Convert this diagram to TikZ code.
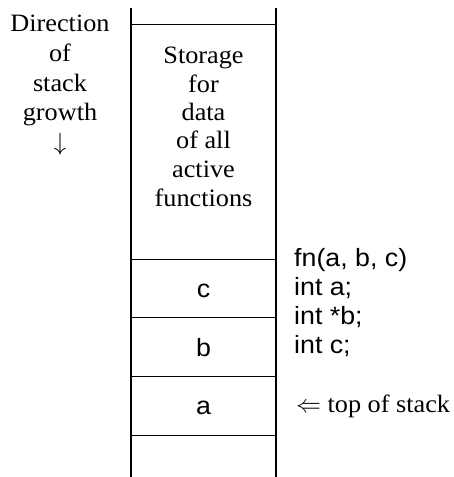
\documentclass[tikz,border=0pt]{standalone}
\usepackage{fontspec}
\setmainfont{Liberation Serif}[FakeStretch=1.05]
\setsansfont{Liberation Sans}[FakeStretch=1.07]
\begin{document}
\begin{tikzpicture}[x=1pt,y=-1pt,
  wall/.style={line width=2pt},
  slot/.style={line width=0.9pt},
  serifline/.style={font=\fontsize{25}{29}\selectfont, inner sep=0pt},
  sansline/.style={font=\sffamily\fontsize{25}{29}\selectfont, inner sep=0pt}]
\useasboundingbox (0,0) rectangle (454,477);
% stack walls
\coordinate (lt) at (131,8);
\coordinate (lb) at (131,477);
\coordinate (rt) at (276,8);
\coordinate (rb) at (276,477);
\draw[wall] (lt) -- (lb);
\draw[wall] (rt) -- (rb);
% frame boundaries
\foreach \y/\n in {24/h0,259/h1,317/h2,376/h3,435/h4}{
  \coordinate (\n l) at (131,\y);
  \coordinate (\n r) at (276,\y);
  \draw[slot] (\n l) -- (\n r);
}
% growth direction label
\foreach \t/\y [count=\i] in {Direction/31.5,of/61.5,stack/91,growth/120}
  \node[serifline, anchor=base] (dir\i) at (60,\y) {\t};
\node[serifline, anchor=base] (dirarrow) at (60,150) {$\downarrow$};
% storage block label
\foreach \t/\y [count=\i] in {Storage/63,for/92,data/120,of all/148,active/177,functions/206}
  \node[serifline, anchor=base] (sto\i) at (203.5,\y) {\t};
% parameter slots
\node[sansline, anchor=base] (pc) at (203.5,297) {c};
\node[sansline, anchor=base] (pb) at (203.5,356) {b};
\node[sansline, anchor=base] (pa) at (203.5,414) {a};
% function declaration
\foreach \t/\y [count=\i] in {fn(a{,} b{,} c)/266,int a;/295,int *b;/324,int c;/353}
  \node[sansline, anchor=base west] (decl\i) at (294,\y) {\t};
% stack pointer
\node[serifline, anchor=base west] (top) at (296,412) {$\Leftarrow$ top of stack};
\end{tikzpicture}
\end{document}
